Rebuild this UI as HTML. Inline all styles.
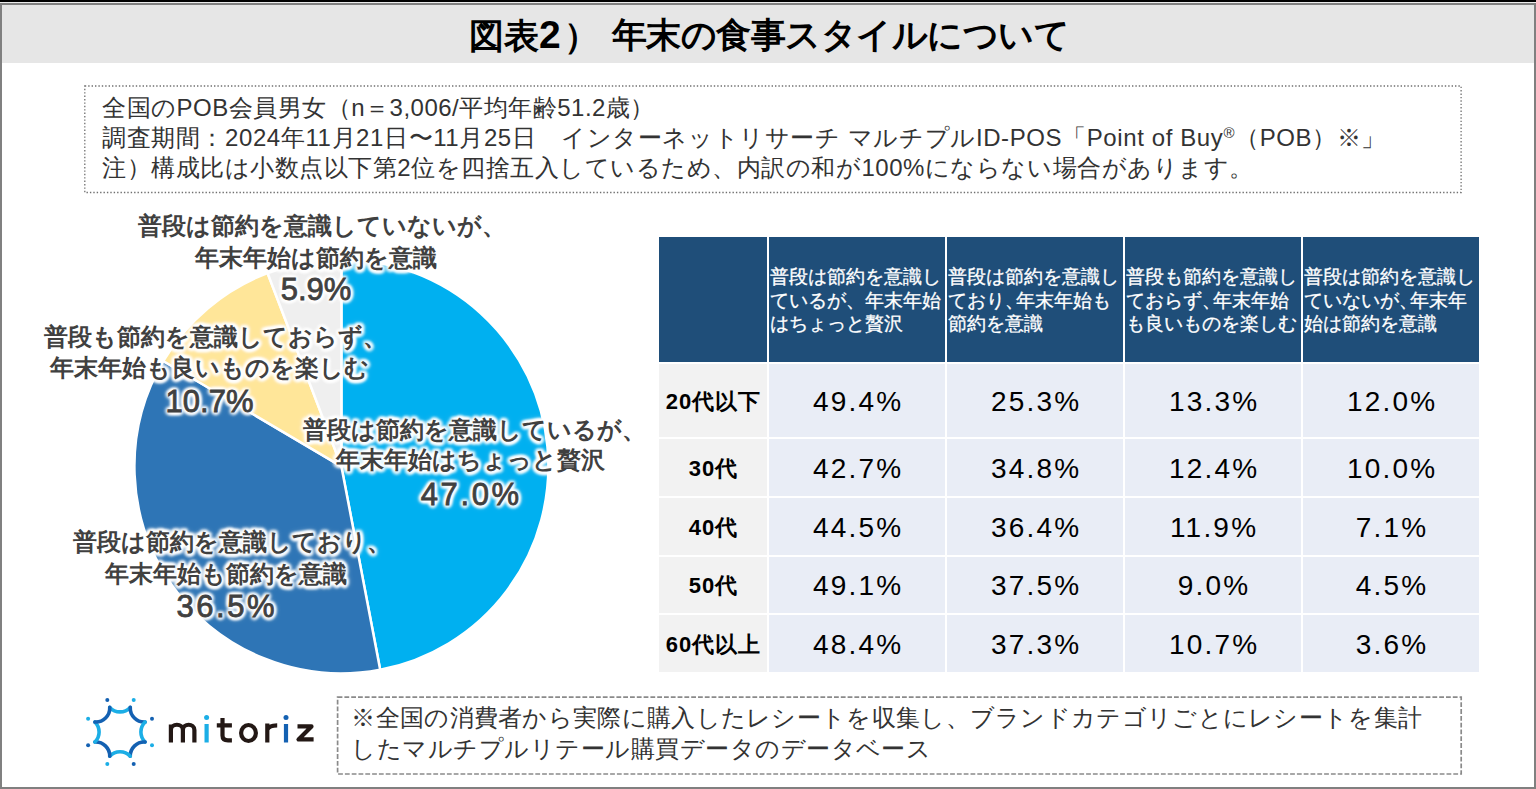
<!DOCTYPE html>
<html lang="ja">
<head>
<meta charset="utf-8">
<style>
*{margin:0;padding:0;box-sizing:border-box}
html,body{width:1536px;height:789px;overflow:hidden;background:#fff}
body{position:relative;font-family:"Liberation Sans",sans-serif;color:#262626}
.a{position:absolute;white-space:nowrap}
#frame{position:absolute;left:0;top:3px;width:1536px;height:786px;border:2px solid #808080}
#topbar{position:absolute;left:0;top:0;width:1536px;height:2px;background:#000}
#titlebar{position:absolute;left:2px;top:5px;width:1532px;height:58px;background:#e6e6e6}
#tl{position:absolute;left:0;top:2px;width:1536px;height:1px;background:#ececec}
#title{left:0;width:1536px;top:13px;text-align:center;font-size:35px;font-weight:bold;color:#000;line-height:44px}
#note{display:none}
.nl{font-size:24px;color:#333;line-height:30px;left:102px}
.lbl{font-size:24px;font-weight:bold;color:#404040;line-height:30px;text-shadow:2.5px 0 3px #fff,-2.5px 0 3px #fff,0 2.5px 3px #fff,0 -2.5px 3px #fff,1.8px 1.8px 3px #fff,-1.8px 1.8px 3px #fff,1.8px -1.8px 3px #fff,-1.8px -1.8px 3px #fff,0 0 5px #fff,0 0 7px #fff}
.pct{font-size:31px;font-weight:normal;-webkit-text-stroke:0.8px #404040}
.cell{position:absolute;display:flex;align-items:center;justify-content:center}
.h{background:#1f4e79;color:#fff;font-size:19px;line-height:23.2px;justify-content:flex-start;padding-left:1px;padding-top:2px;-webkit-text-stroke:0.3px #fff}
.nc{letter-spacing:-8px}
.rl{background:#f2f2f2;color:#000;font-size:22px;font-weight:bold;letter-spacing:1px;padding-left:1px;padding-top:3px}
.d{background:#e9edf6;color:#000;font-size:28px;letter-spacing:2.2px;padding-left:2.2px;padding-top:3px}
#foot{display:none}
.fl{font-size:24px;color:#333;line-height:31px;left:355px}
</style>
</head>
<body>
<div id="topbar"></div>
<div id="frame"></div>
<div id="titlebar"></div>
<div id="tl"></div>
<div class="a" id="title" style="left:469px;width:auto;text-align:left">図表<span style="font-size:39px">2</span><span style="margin-left:3px">）</span></div>
<div class="a" id="title2" style="left:611.5px;top:13px;letter-spacing:-0.47px;font-size:35px;font-weight:bold;color:#000;line-height:44px">年末の食事スタイルについて</div>

<div id="note"></div>
<div class="a nl" style="top:93px;letter-spacing:0.5px">全国のPOB会員男女（n＝3,006/平均年齢51.2歳）</div>
<div class="a nl" style="top:123px;letter-spacing:0.6px">調査期間：2024年11月21日〜11月25日　インターネットリサーチ マルチプルID-POS「Point of Buy<span style="font-size:15px;position:relative;top:-8px">®</span>（POB）※」</div>
<div class="a nl" style="top:153px;letter-spacing:0.52px">注）構成比は小数点以下第2位を四捨五入しているため、内訳の和が100%にならない場合があります。</div>

<svg class="a" style="left:0;top:0" width="1536" height="789" viewBox="0 0 1536 789">
<rect x="84.8" y="86" width="1376.3" height="106.5" fill="none" stroke="#707070" stroke-width="1.3" stroke-dasharray="1.4 2"/>
<rect x="337.6" y="697.1" width="1123.6" height="76.9" fill="none" stroke="#8a8a8a" stroke-width="1.7" stroke-dasharray="4.8 2"/>
<path d="M341.4,466.4 L341.40,259.40 A207,207 0 0 1 380.19,669.73 Z" fill="#00B0F0" stroke="#fff" stroke-width="2.5" stroke-linejoin="round"/>
<path d="M341.4,466.4 L380.19,669.73 A207,207 0 0 1 163.23,361.04 Z" fill="#2E75B6" stroke="#fff" stroke-width="2.5" stroke-linejoin="round"/>
<path d="M341.4,466.4 L163.23,361.04 A207,207 0 0 1 267.55,273.02 Z" fill="#FFE699" stroke="#fff" stroke-width="2.5" stroke-linejoin="round"/>
<path d="M341.4,466.4 L267.55,273.02 A207,207 0 0 1 341.40,259.40 Z" fill="#EFEFEF" stroke="#fff" stroke-width="2.5" stroke-linejoin="round"/>
<g fill="none" stroke-width="3.6" stroke-linecap="round">
<path d="M109.75,707.40 A14,14 0 0 0 130.25,707.40" stroke="#1BAEE6"/>
<path d="M130.25,707.40 A14,14 0 0 0 145.10,722.00" stroke="#1461B2"/>
<path d="M145.10,722.00 A14,14 0 0 0 145.10,742.00" stroke="#1BAEE6"/>
<path d="M145.10,742.00 A14,14 0 0 0 130.25,756.20" stroke="#1461B2"/>
<path d="M130.25,756.20 A14,14 0 0 0 109.75,756.20" stroke="#1BAEE6"/>
<path d="M109.75,756.20 A14,14 0 0 0 94.90,742.00" stroke="#1461B2"/>
<path d="M94.90,742.00 A14,14 0 0 0 94.90,722.00" stroke="#1BAEE6"/>
<path d="M94.90,722.00 A14,14 0 0 0 109.75,707.40" stroke="#1461B2"/>
</g>
<circle cx="107.3" cy="700.1" r="2" fill="#1461B2"/>
<circle cx="133.7" cy="700.1" r="2" fill="#1BAEE6"/>
<circle cx="152.0" cy="718.8" r="2" fill="#1461B2"/>
<circle cx="152.0" cy="745.3" r="2" fill="#1BAEE6"/>
<circle cx="133.7" cy="764.0" r="2" fill="#1461B2"/>
<circle cx="107.3" cy="764.0" r="2" fill="#1BAEE6"/>
<circle cx="88.1" cy="745.3" r="2" fill="#1461B2"/>
<circle cx="88.1" cy="718.8" r="2" fill="#1BAEE6"/>
<!-- wordmark -->
<g fill="none" stroke-width="4.2" stroke-linecap="butt" stroke-linejoin="round">
<path d="M170.9,742.5 V724.5 M170.9,730 C170.9,723 182.9,723 182.9,730 V742.5 M182.9,730 C182.9,723 194.4,723 194.4,730 V742.5" stroke="#231815"/>
<path d="M206.6,724 V742.5" stroke="#1BAEE6"/>
<path d="M222.5,718 V735.5 C222.5,739 224.5,740.4 228,740.4 H231.9 M216.8,725.3 H231.9" stroke="#231815"/>
<ellipse cx="248.5" cy="733" rx="7.4" ry="8" stroke="#231815"/>
<path d="M267.3,742.5 V723.5 M267.3,730 C268.5,726 272,725.3 277.2,725.3" stroke="#231815"/>
<path d="M286,724 V742.5" stroke="#1461B2"/>
<path d="M297.5,726.4 H311.5 L298.5,739.4 H313.6" stroke="#231815"/>
</g>
<circle cx="206.6" cy="717.5" r="2.5" fill="#1BAEE6"/>
<circle cx="286" cy="717.5" r="2.5" fill="#1461B2"/>
</svg>

<!-- pie labels -->
<div class="a lbl" style="left:321.8px;top:211px;transform:translateX(-50%)">普段は節約を意識していないが、</div>
<div class="a lbl" style="left:315.8px;top:242.6px;transform:translateX(-50%)">年末年始は節約を意識</div>
<div class="a lbl pct" style="left:316px;top:275px;transform:translateX(-50%)">5.9%</div>

<div class="a lbl" style="left:215.7px;top:322px;transform:translateX(-50%)">普段も節約を意識しておらず、</div>
<div class="a lbl" style="left:209.8px;top:352.7px;transform:translateX(-50%)">年末年始も良いものを楽しむ</div>
<div class="a lbl pct" style="left:209.5px;top:386.5px;transform:translateX(-50%)">10.7%</div>

<div class="a lbl" style="left:474.9px;top:414.8px;transform:translateX(-50%)">普段は節約を意識しているが、</div>
<div class="a lbl" style="left:470.4px;top:445.2px;transform:translateX(-50%)">年末年始はちょっと贅沢</div>
<div class="a lbl pct" style="left:471.2px;top:480.3px;transform:translateX(-50%);letter-spacing:2.6px">47.0%</div>

<div class="a lbl" style="left:231.9px;top:527.2px;transform:translateX(-50%)">普段は節約を意識しており、</div>
<div class="a lbl" style="left:225.7px;top:558.9px;transform:translateX(-50%)">年末年始も節約を意識</div>
<div class="a lbl pct" style="left:226.8px;top:592.3px;transform:translateX(-50%);letter-spacing:2.5px">36.5%</div>

<!-- table -->
<div class="cell h" style="left:659px;top:237px;width:108px;height:124.5px"></div>
<div class="cell h" style="left:769px;top:237px;width:176px;height:124.5px"><div>普段は節約を意識し<br>ているが、年末年始<br>はちょっと贅沢</div></div>
<div class="cell h" style="left:947px;top:237px;width:176px;height:124.5px"><div>普段は節約を意識し<br>ており<span class="nc">、</span>年末年始も<br>節約を意識</div></div>
<div class="cell h" style="left:1125px;top:237px;width:176px;height:124.5px"><div>普段も節約を意識し<br>ておらず<span class="nc">、</span>年末年始<br>も良いものを楽しむ</div></div>
<div class="cell h" style="left:1303px;top:237px;width:176px;height:124.5px"><div>普段は節約を意識し<br>ていないが<span class="nc">、</span>年末年<br>始は節約を意識</div></div>

<div class="cell rl" style="left:659px;top:363.5px;width:108px;height:73px">20代以下</div>
<div class="cell d" style="left:769px;top:363.5px;width:176px;height:73px">49.4%</div>
<div class="cell d" style="left:947px;top:363.5px;width:176px;height:73px">25.3%</div>
<div class="cell d" style="left:1125px;top:363.5px;width:176px;height:73px">13.3%</div>
<div class="cell d" style="left:1303px;top:363.5px;width:176px;height:73px">12.0%</div>

<div class="cell rl" style="left:659px;top:438.5px;width:108px;height:57px">30代</div>
<div class="cell d" style="left:769px;top:438.5px;width:176px;height:57px">42.7%</div>
<div class="cell d" style="left:947px;top:438.5px;width:176px;height:57px">34.8%</div>
<div class="cell d" style="left:1125px;top:438.5px;width:176px;height:57px">12.4%</div>
<div class="cell d" style="left:1303px;top:438.5px;width:176px;height:57px">10.0%</div>

<div class="cell rl" style="left:659px;top:497.5px;width:108px;height:57px">40代</div>
<div class="cell d" style="left:769px;top:497.5px;width:176px;height:57px">44.5%</div>
<div class="cell d" style="left:947px;top:497.5px;width:176px;height:57px">36.4%</div>
<div class="cell d" style="left:1125px;top:497.5px;width:176px;height:57px">11.9%</div>
<div class="cell d" style="left:1303px;top:497.5px;width:176px;height:57px">7.1%</div>

<div class="cell rl" style="left:659px;top:556.5px;width:108px;height:56.5px">50代</div>
<div class="cell d" style="left:769px;top:556.5px;width:176px;height:56.5px">49.1%</div>
<div class="cell d" style="left:947px;top:556.5px;width:176px;height:56.5px">37.5%</div>
<div class="cell d" style="left:1125px;top:556.5px;width:176px;height:56.5px">9.0%</div>
<div class="cell d" style="left:1303px;top:556.5px;width:176px;height:56.5px">4.5%</div>

<div class="cell rl" style="left:659px;top:615px;width:108px;height:56.5px">60代以上</div>
<div class="cell d" style="left:769px;top:615px;width:176px;height:56.5px">48.4%</div>
<div class="cell d" style="left:947px;top:615px;width:176px;height:56.5px">37.3%</div>
<div class="cell d" style="left:1125px;top:615px;width:176px;height:56.5px">10.7%</div>
<div class="cell d" style="left:1303px;top:615px;width:176px;height:56.5px">3.6%</div>

<div id="foot"></div>
<div class="a fl" style="top:702px;left:351.4px;letter-spacing:0.3px">※全国の消費者から実際に購入したレシートを収集し、ブランドカテゴリごとにレシートを集計</div>
<div class="a fl" style="top:733px;left:351.4px;letter-spacing:0.48px">したマルチプルリテール購買データのデータベース</div>
</body>
</html>
